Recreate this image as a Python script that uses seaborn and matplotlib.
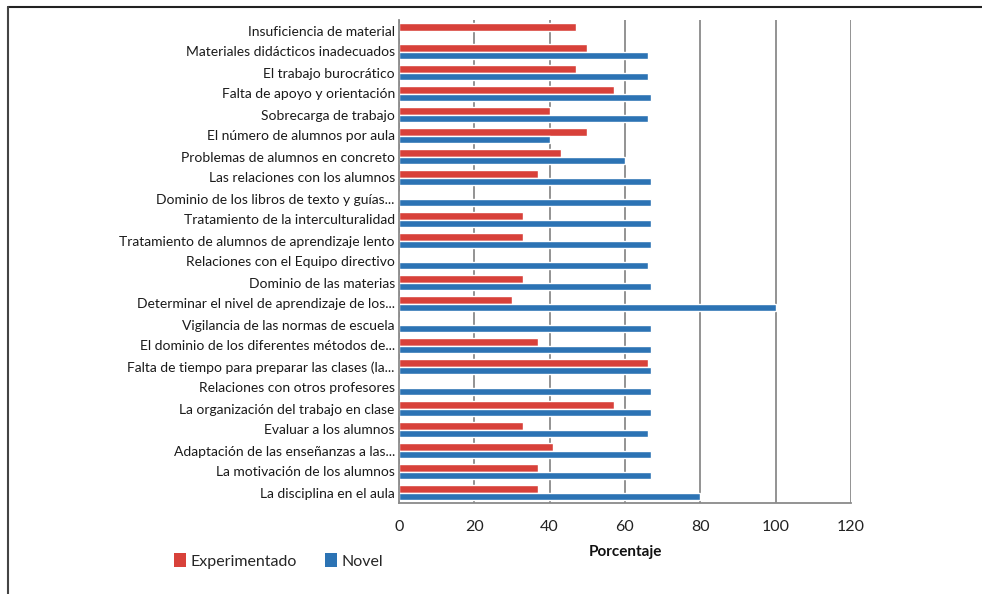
import matplotlib
matplotlib.use("Agg")
import matplotlib.pyplot as plt
from matplotlib.lines import Line2D
from matplotlib.patches import Patch
import pandas as pd
import seaborn as sns

categories = [
    "Insuficiencia de material",
    "Materiales didácticos inadecuados",
    "El trabajo burocrático",
    "Falta de apoyo y orientación",
    "Sobrecarga de trabajo",
    "El número de alumnos por aula",
    "Problemas de alumnos en concreto",
    "Las relaciones con los alumnos",
    "Dominio de los libros de texto y guías...",
    "Tratamiento de la interculturalidad",
    "Tratamiento de alumnos de aprendizaje lento",
    "Relaciones con el Equipo directivo",
    "Dominio de las materias",
    "Determinar el nivel de aprendizaje de los...",
    "Vigilancia de las normas de escuela",
    "El dominio de los diferentes métodos de...",
    "Falta de tiempo para preparar las clases (la...",
    "Relaciones con otros profesores",
    "La organización del trabajo en clase",
    "Evaluar a los alumnos",
    "Adaptación de las enseñanzas a las...",
    "La motivación de los alumnos",
    "La disciplina en el aula",
]
experimentado = [47, 50, 47, 57, 40, 50, 43, 37, 0, 33, 33, 0, 33, 30,
                 0, 37, 66, 0, 57, 33, 41, 37, 37]
novel = [0, 66, 66, 67, 66, 40, 60, 67, 67, 67, 67, 66, 67, 100,
         67, 67, 67, 67, 67, 66, 67, 67, 80]
groups = ["Experimentado", "Novel"]
colors = ["#d8413a", "#2c73b4"]

df = pd.DataFrame({
    "categoria": categories * 2,
    "grupo": [groups[0]] * len(categories) + [groups[1]] * len(categories),
    "porcentaje": experimentado + novel,
})

sns.set_style("white")
plt.rcParams["font.family"] = ["Lato", "DejaVu Sans"]

fig = plt.figure(figsize=(9.82, 5.94), dpi=100)
ax = fig.add_axes([399 / 982, 91 / 594, 452 / 982, 483 / 594])

sns.barplot(data=df, y="categoria", x="porcentaje", hue="grupo",
            order=categories, hue_order=groups, palette=colors,
            orient="h", width=0.68, saturation=1, ax=ax, legend=False)

ax.set_xlim(0, 120)
ax.set_xticks(range(0, 121, 20))
ax.set_axisbelow(True)
ax.xaxis.grid(True, color="#8a8a8a", linewidth=1.3)
ax.yaxis.grid(False)
for side in ["top", "right"]:
    ax.spines[side].set_visible(False)
for side in ["left", "bottom"]:
    ax.spines[side].set_color("#8a8a8a")
    ax.spines[side].set_linewidth(1.3)

ax.tick_params(axis="y", length=0, pad=3, labelsize=10, labelcolor="#1a1a1a")
ax.tick_params(axis="x", length=0, pad=12, labelsize=11.5, labelcolor="#222222")
ax.set_ylabel("")
ax.set_xlabel("Porcentaje", fontsize=11, fontweight="bold", labelpad=8,
              color="#111111")

handles = [Patch(facecolor=c, edgecolor="none") for c in colors]
fig.legend(handles, groups, loc="center left", bbox_to_anchor=(160 / 982, 1 - 561 / 594),
           ncol=2, frameon=False, fontsize=11.5, handlelength=0.7,
           handleheight=0.9, handletextpad=0.3, columnspacing=1.8)

# frame lines of the original picture
fig.add_artist(Line2D([8 / 982, 1], [1 - 6.5 / 594, 1 - 6.5 / 594],
                      color="#222222", linewidth=1.5))
fig.add_artist(Line2D([8 / 982, 8 / 982], [0, 1 - 6.5 / 594],
                      color="#444444", linewidth=1.5))

fig.savefig("out.png", dpi=100)
